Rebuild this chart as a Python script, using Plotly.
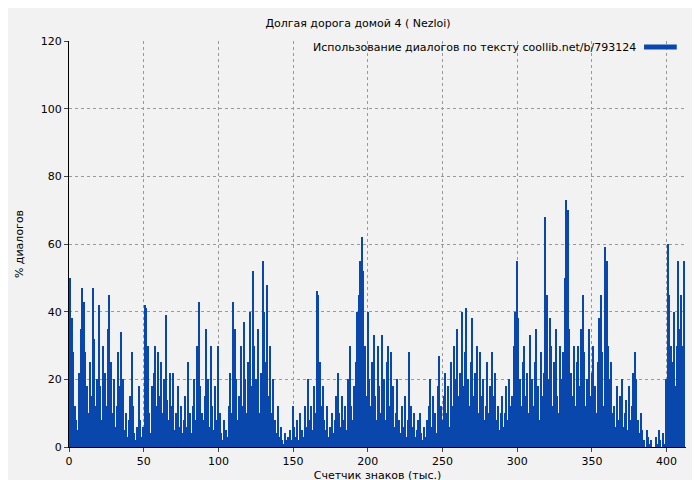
import plotly.graph_objects as go

values = [
12,50,38,28,12,8,5,22,35,47,
43,28,18,10,25,15,47,32,12,20,
42,18,8,30,22,12,35,45,25,10,
20,6,12,28,18,34,20,5,10,3,
8,15,28,12,4,2,6,18,8,3,
6,42,41,30,10,4,18,22,30,12,
28,15,25,10,20,39,14,8,22,12,
22,5,10,18,6,12,4,8,15,6,
25,10,4,12,20,8,30,43,18,10,
8,15,35,20,6,30,12,5,18,8,
30,10,4,2,8,5,3,12,22,10,
43,35,20,8,15,30,12,37,20,10,
25,40,18,52,30,20,15,35,10,22,
55,40,25,48,15,30,10,20,8,4,
12,3,6,2,1,4,2,3,5,2,
12,6,3,8,2,10,5,3,12,6,
20,8,12,5,18,10,46,45,25,12,
18,8,5,12,3,6,10,4,8,15,
22,10,6,15,8,12,5,20,30,12,
8,18,25,40,45,55,62,52,30,15,
40,20,12,25,33,15,8,30,18,10,
33,20,8,25,30,12,28,18,6,10,
20,8,4,12,6,15,3,8,28,12,
6,10,3,5,8,10,4,2,6,3,
8,12,20,6,15,10,4,18,27,12,
8,15,22,10,18,6,25,12,30,20,
35,15,22,40,18,28,41,20,12,25,
38,15,22,30,10,28,15,20,8,12,
25,10,18,28,15,22,8,12,5,10,
15,6,10,18,8,20,12,15,30,40,
55,38,20,12,25,30,15,22,10,33,
20,12,25,35,18,8,28,15,22,68,
45,20,38,30,12,25,35,15,10,30,
20,28,50,73,70,35,22,15,30,12,
25,30,18,35,45,28,12,20,35,15,
22,30,18,10,25,38,45,28,12,59,
55,30,20,25,10,12,6,18,8,15,
20,6,10,14,5,18,8,12,22,28,
20,8,4,10,5,2,0,5,3,1,
2,0,0,3,1,5,2,0,4,1,
20,60,45,30,25,40,18,30,55,35,
45,30,55,
]
x_vals = list(range(len(values)))

title = "Долгая дорога домой 4 ( Nezloi)"
legend_label = "Использование диалогов по тексту coollib.net/b/793124"
x_title = "Счетчик знаков (тыс.)"
y_title = "% диалогов"

blue = "#0a47ad"
fig = go.Figure(go.Bar(x=x_vals, y=values, marker=dict(color=blue, line_width=0),
                       width=1, name=legend_label, showlegend=False))
font = dict(family="DejaVu Sans", size=11, color="#000")
fig.update_layout(
    width=700, height=480, paper_bgcolor="#f2f2f2", plot_bgcolor="#f2f2f2",
    margin=dict(l=61, r=22, t=33, b=41, autoexpand=False), bargap=0, font=font,
    title=dict(text=title, x=0.5, xanchor="center", y=0.968, yanchor="middle", font=dict(size=11)),
    xaxis=dict(range=[0, 413], tickvals=[0,50,100,150,200,250,300,350,400], automargin=False,
               showgrid=True, gridcolor="#999", griddash="dot", showline=True, linecolor="#000",
               ticks="outside", ticklen=4, zeroline=False, tickfont=dict(size=11),
               title=dict(text=x_title, standoff=4, font=dict(size=11))),
    yaxis=dict(range=[0, 120], dtick=20, showgrid=True, gridcolor="#999", griddash="dot", automargin=False,
               showline=True, linecolor="#000", ticks="outside", ticklen=4, zeroline=False,
               tickfont=dict(size=11),
               title=dict(text=y_title, standoff=14, font=dict(size=11))),
)
fig.add_annotation(xref="paper", yref="paper", x=0.923, y=0.985, xanchor="right", yanchor="middle",
                   text=legend_label, showarrow=False, font=dict(size=11))
fig.add_shape(type="line", xref="paper", yref="paper", x0=0.932, x1=0.985, y0=0.985, y1=0.985,
              line=dict(color=blue, width=5))
fig.write_html("out.html")
